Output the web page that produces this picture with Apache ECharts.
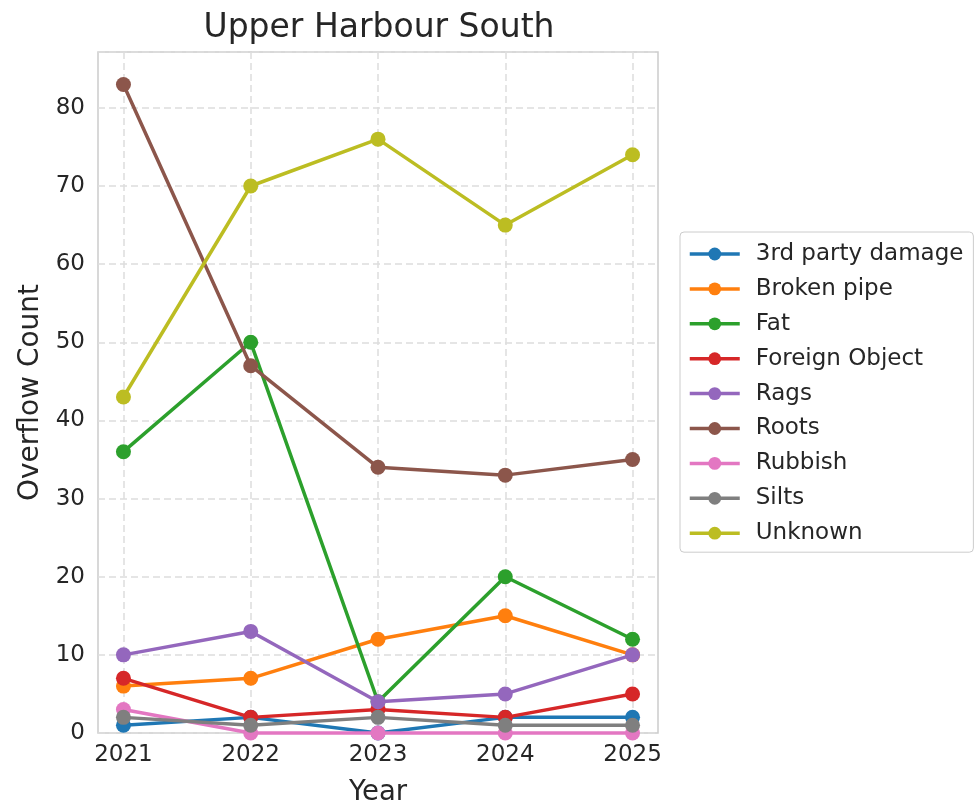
<!DOCTYPE html>
<html><head><meta charset="utf-8">
<script src="https://cdn.jsdelivr.net/npm/echarts@6/dist/echarts.min.js"></script>
<style>html,body{margin:0;padding:0;background:#fff}#c{width:976px;height:812px}</style>
</head><body><div id="c"></div>
<script>
const years = [2021, 2022, 2023, 2024, 2025];
const seriesNames = ["3rd party damage","Broken pipe","Fat","Foreign Object","Rags","Roots","Rubbish","Silts","Unknown"];
const thirdParty = [1, 2, 0, 2, 2];
const brokenPipe = [6, 7, 12, 15, 10];
const fat = [36, 50, 4, 20, 12];
const foreignObject = [7, 2, 3, 2, 5];
const rags = [10, 13, 4, 5, 10];
const roots = [83, 47, 34, 33, 35];
const rubbish = [3, 0, 0, 0, 0];
const silts = [2, 1, 2, 1, 1];
const unknown = [43, 70, 76, 65, 74];
const yTicks = [0, 10, 20, 30, 40, 50, 60, 70, 80];
const colors = ["#1f77b4","#ff7f0e","#2ca02c","#d62728","#9467bd","#8c564b","#e377c2","#7f7f7f","#bcbd22"];
const allValues = [thirdParty, brokenPipe, fat, foreignObject, rags, roots, rubbish, silts, unknown];

const font = "DejaVu Sans";
const chart = echarts.init(document.getElementById('c'), null, {renderer:'canvas'});
chart.setOption({
  animation:false,
  backgroundColor:'#fff',
  textStyle:{fontFamily:font},
  title:{text:'Upper Harbour South', left:374, top:7, textAlign:'center',
    textStyle:{fontFamily:font, fontSize:33, fontWeight:'normal', color:'#262626'}},
  grid:{left:98, right:318, top:52, bottom:79, show:true, borderColor:'#cccccc', borderWidth:1.5},
  legend:{orient:'vertical', left:680, top:232, itemWidth:50, itemHeight:16, itemGap:10.9,
    padding:[10,10,7,8], borderColor:'#cccccc', borderWidth:1, borderRadius:4,
    lineStyle:{width:3.5},
    textStyle:{fontFamily:font, fontSize:23, lineHeight:24, color:'#262626', padding:[0,0,0,11]},
    data:seriesNames},
  xAxis:{type:'value', min:2020.8, max:2025.2,
    name:'Year', nameLocation:'middle', nameGap:46,
    nameTextStyle:{fontFamily:font, fontSize:27.5, color:'#262626'},
    axisLine:{show:false}, axisTick:{show:false, customValues:years},
    axisLabel:{customValues:years, fontFamily:font, fontSize:23, color:'#262626', margin:11, formatter:v=>String(v)},
    splitLine:{show:true, lineStyle:{color:'#dddddd', type:[7,4], width:1.5}}},
  yAxis:{type:'value', min:0, max:87.15, interval:10,
    name:'Overflow Count', nameLocation:'middle', nameGap:53,
    nameTextStyle:{fontFamily:font, fontSize:28, color:'#262626'},
    axisLine:{show:false}, axisTick:{show:false},
    axisLabel:{fontFamily:font, fontSize:23, color:'#262626', margin:13, showMaxLabel:false},
    splitLine:{show:true, lineStyle:{color:'#dddddd', type:[7,4], width:1.5}}},
  series: seriesNames.map((n,i)=>({
    name:n, type:'line', data: years.map((y,j)=>[y, allValues[i][j]]),
    symbol:'circle', symbolSize:15, color:colors[i],
    lineStyle:{width:3.5, color:colors[i]}, itemStyle:{color:colors[i]},
    clip:false, z:2+i
  }))
});
</script></body></html>
